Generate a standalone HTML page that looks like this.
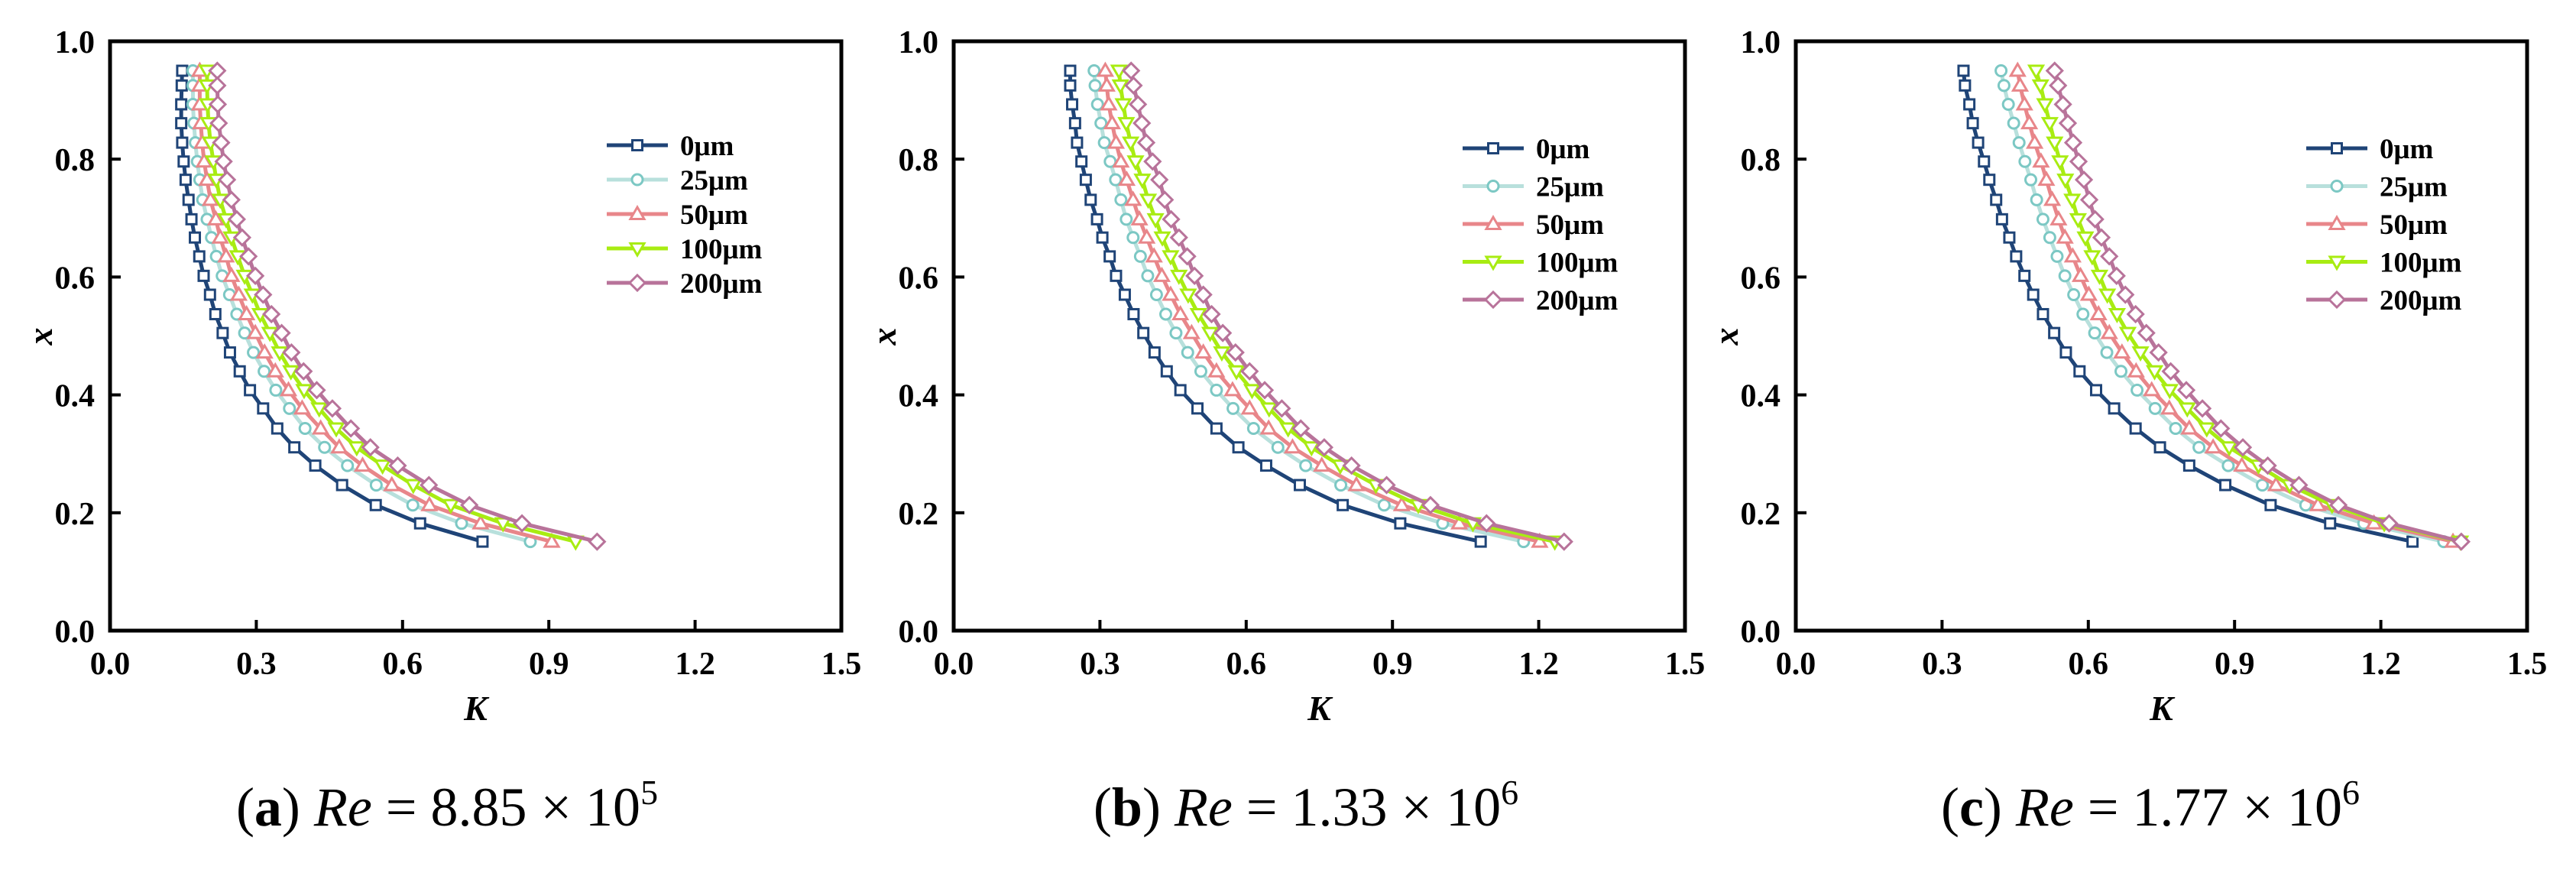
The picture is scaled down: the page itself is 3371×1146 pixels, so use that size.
<!DOCTYPE html>
<html><head><meta charset="utf-8"><style>
html,body{margin:0;padding:0;background:#fff;}
svg{display:block;}
text{font-family:"Liberation Serif",serif;}
</style></head><body>
<svg id="chart" width="3371" height="1146" viewBox="0 0 3371 1146" xmlns="http://www.w3.org/2000/svg"></svg>
<script>
const xLevels=[0.95,0.925,0.893,0.861,0.828,0.796,0.765,0.731,0.698,0.667,0.635,0.602,0.570,0.537,0.505,0.472,0.440,0.408,0.377,0.343,0.311,0.280,0.247,0.213,0.182,0.151];
const seriesNames=["0μm","25μm","50μm","100μm","200μm"];
const xTicks=[0,0.3,0.6,0.9,1.2,1.5];
const xTickLabels=["0.0","0.3","0.6","0.9","1.2","1.5"];
const yTicks=[0,0.2,0.4,0.6,0.8,1.0];
const yTickLabels=["0.0","0.2","0.4","0.6","0.8","1.0"];
const captions=[["a","8.85","5"],["b","1.33","6"],["c","1.77","6"]];
const a0=[0.148,0.147,0.146,0.146,0.148,0.151,0.155,0.161,0.167,0.174,0.183,0.192,0.205,0.216,0.231,0.246,0.266,0.287,0.314,0.343,0.378,0.421,0.476,0.545,0.636,0.764];
const a25=[0.170,0.170,0.170,0.172,0.175,0.179,0.184,0.190,0.199,0.208,0.218,0.230,0.245,0.260,0.276,0.294,0.316,0.340,0.368,0.400,0.440,0.487,0.546,0.621,0.721,0.862];
const a50=[0.184,0.184,0.184,0.186,0.189,0.193,0.199,0.206,0.217,0.226,0.238,0.249,0.264,0.280,0.298,0.317,0.339,0.366,0.394,0.432,0.470,0.518,0.578,0.655,0.760,0.906];
const a100=[0.199,0.199,0.200,0.202,0.206,0.212,0.218,0.226,0.238,0.249,0.262,0.276,0.292,0.308,0.328,0.348,0.371,0.398,0.429,0.464,0.506,0.559,0.622,0.699,0.806,0.955];
const a200=[0.220,0.220,0.221,0.223,0.228,0.233,0.240,0.249,0.260,0.271,0.284,0.298,0.314,0.331,0.352,0.372,0.397,0.424,0.456,0.494,0.534,0.590,0.654,0.737,0.845,0.999];
const b0=[0.239,0.239,0.243,0.249,0.253,0.262,0.271,0.281,0.294,0.305,0.320,0.333,0.351,0.369,0.389,0.412,0.437,0.465,0.500,0.539,0.584,0.641,0.710,0.798,0.916,1.081];
const b25=[0.288,0.290,0.295,0.302,0.309,0.321,0.332,0.343,0.354,0.368,0.383,0.398,0.416,0.435,0.456,0.480,0.507,0.539,0.573,0.615,0.665,0.722,0.794,0.883,1.003,1.169];
const b50=[0.311,0.314,0.318,0.325,0.333,0.343,0.355,0.368,0.381,0.396,0.411,0.427,0.445,0.465,0.488,0.512,0.539,0.572,0.607,0.646,0.695,0.755,0.826,0.919,1.037,1.202];
const b100=[0.339,0.342,0.348,0.354,0.363,0.373,0.387,0.399,0.414,0.428,0.445,0.462,0.481,0.502,0.526,0.550,0.580,0.612,0.647,0.686,0.734,0.793,0.866,0.953,1.065,1.233];
const b200=[0.364,0.369,0.378,0.386,0.395,0.408,0.422,0.433,0.446,0.462,0.479,0.494,0.512,0.529,0.552,0.578,0.607,0.638,0.673,0.712,0.760,0.816,0.888,0.978,1.093,1.252];
const c0=[0.344,0.347,0.356,0.363,0.374,0.386,0.397,0.411,0.423,0.438,0.452,0.469,0.487,0.507,0.530,0.554,0.582,0.616,0.653,0.697,0.747,0.807,0.881,0.974,1.096,1.265];
const c25=[0.421,0.427,0.436,0.447,0.458,0.470,0.482,0.494,0.507,0.521,0.536,0.552,0.570,0.589,0.613,0.638,0.667,0.700,0.737,0.779,0.827,0.887,0.957,1.046,1.165,1.329];
const c50=[0.455,0.460,0.469,0.479,0.490,0.503,0.514,0.526,0.539,0.552,0.568,0.584,0.601,0.621,0.643,0.669,0.698,0.730,0.766,0.807,0.856,0.915,0.985,1.071,1.186,1.348];
const c100=[0.493,0.502,0.511,0.521,0.531,0.542,0.553,0.567,0.579,0.594,0.608,0.623,0.639,0.659,0.681,0.707,0.736,0.767,0.803,0.843,0.889,0.949,1.013,1.100,1.207,1.363];
const c200=[0.531,0.538,0.548,0.558,0.569,0.580,0.591,0.602,0.614,0.627,0.643,0.658,0.676,0.697,0.719,0.744,0.769,0.801,0.834,0.872,0.917,0.968,1.032,1.113,1.217,1.365];

const NS="http://www.w3.org/2000/svg";
const svg=document.getElementById('chart');
const lineColors=["#1f4477","#b8e0dc","#e8868a","#a8ec12","#b8739a"];
const markColors=["#1f4477","#7cc8c4","#e8868a","#a8ec12","#b8739a"];
const shapes=["square","circle","tri","itri","diamond"];
const panels=[
 {left:144,data:[a0,a25,a50,a100,a200],legX:794,legY:190,legDy:45,cap:585},
 {left:1248,data:[b0,b25,b50,b100,b200],legX:1914,legY:194,legDy:49.5,cap:1709},
 {left:2350,data:[c0,c25,c50,c100,c200],legX:3018,legY:194,legDy:49.5,cap:2814}
];
const W=957,TOP=54,BOT=825;
function mk(tag,attrs,parent){const e=document.createElementNS(NS,tag);for(const k in attrs)e.setAttribute(k,attrs[k]);(parent||svg).appendChild(e);return e;}
function marker(shape,cx,cy,color,parent){
 const s=6.5;let e;
 if(shape==="square")e=mk('rect',{x:cx-s,y:cy-s,width:2*s,height:2*s},parent);
 else if(shape==="circle")e=mk('circle',{cx:cx,cy:cy,r:s+0.5},parent);
 else if(shape==="tri")e=mk('polygon',{points:`${cx},${cy-9} ${cx-9},${cy+6.5} ${cx+9},${cy+6.5}`},parent);
 else if(shape==="itri")e=mk('polygon',{points:`${cx},${cy+9} ${cx-9},${cy-6.5} ${cx+9},${cy-6.5}`},parent);
 else e=mk('polygon',{points:`${cx},${cy-10} ${cx+10},${cy} ${cx},${cy+10} ${cx-10},${cy}`},parent);
 e.setAttribute('fill','#fff');e.setAttribute('stroke',color);e.setAttribute('stroke-width','3');
 
 
 return e;
}
panels.forEach((p,pi)=>{
 const g=mk('g',{});
 
 
 const sx=v=>p.left+v/1.5*W;
 const sy=v=>BOT-v*(BOT-TOP);
 p.data.forEach((arr,si)=>{
  const sg=mk('g',{},g);
  
  
  const pts=arr.map((k,i)=>sx(k)+','+sy(xLevels[i])).join(' ');
  const pl=mk('polyline',{points:pts,fill:'none',stroke:lineColors[si],'stroke-width':5,'stroke-linejoin':'round'},sg);
  
  
  arr.forEach((k,i)=>marker(shapes[si],sx(k),sy(xLevels[i]),markColors[si],sg));
 });
 const box=mk('rect',{x:p.left,y:TOP,width:W,height:BOT-TOP,fill:'none',stroke:'#000','stroke-width':5},g);
 
 
 xTicks.forEach((t,i)=>{
  if(i>0&&i<xTicks.length-1){const tk=mk('line',{x1:sx(t),x2:sx(t),y1:BOT,y2:BOT-14,stroke:'#000','stroke-width':4},g);
  }
  const tl=mk('text',{x:sx(t),y:882,'text-anchor':'middle','font-size':42,'font-weight':'bold'},g);
  tl.textContent=xTickLabels[i];
  
  
 });
 yTicks.forEach((t,i)=>{
  if(i>0&&i<yTicks.length-1){const tk=mk('line',{x1:p.left,x2:p.left+14,y1:sy(t),y2:sy(t),stroke:'#000','stroke-width':4},g);
  }
  const tl=mk('text',{x:p.left-20,y:sy(t)+15,'text-anchor':'end','font-size':42,'font-weight':'bold'},g);
  tl.textContent=yTickLabels[i];
  
  
 });
 const xl=mk('text',{x:p.left+W/2,y:942,'text-anchor':'middle','font-size':46,'font-weight':'bold','font-style':'italic'},g);
 xl.textContent='K';
 
 
 const yl=mk('text',{x:0,y:0,'text-anchor':'middle','font-size':46,'font-weight':'bold','font-style':'italic',transform:`translate(${p.left-76},440) rotate(-90)`},g);
 yl.textContent='x';
 
 
 const lg=mk('g',{},g);
 
 
 seriesNames.forEach((n,si)=>{
  const y=p.legY+si*p.legDy;
  const e=mk('g',{},lg);
  
  
  mk('line',{x1:p.legX,x2:p.legX+80,y1:y,y2:y,stroke:lineColors[si],'stroke-width':5},e);
  marker(shapes[si],p.legX+40,y,markColors[si],e);
  const t=mk('text',{x:p.legX+96,y:y+13,'font-size':37,'font-weight':'bold'},e);
  t.textContent=n;
 });
 const c=captions[pi];
 const cap=mk('text',{x:p.cap,y:1080,'text-anchor':'middle','font-size':72},g);
 
 
 cap.innerHTML=`(<tspan font-weight="bold">${c[0]}</tspan>) <tspan font-style="italic">Re</tspan> = ${c[1]} × 10<tspan font-size="46" dy="-28">${c[2]}</tspan>`;
});
</script>
</body></html>
